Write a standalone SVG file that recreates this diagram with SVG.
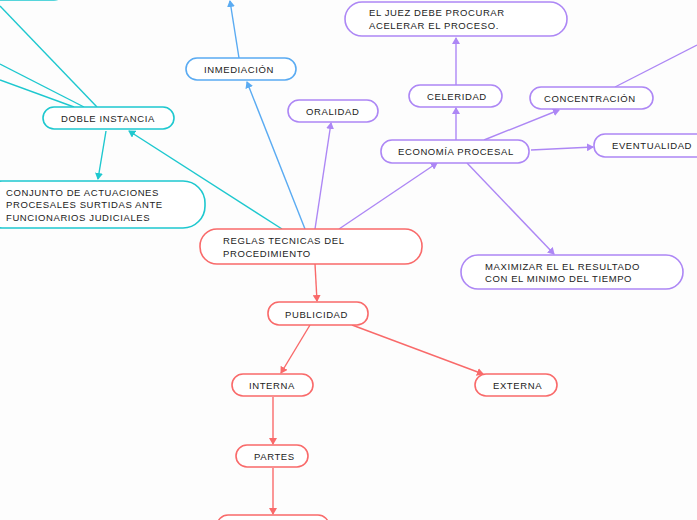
<svg xmlns="http://www.w3.org/2000/svg" width="697" height="520" viewBox="0 0 697 520">
<defs>
<marker id="mc" markerWidth="8" markerHeight="8" refX="6" refY="4" orient="auto" markerUnits="userSpaceOnUse"><path d="M0,0 L7,4 L0,8 z" fill="#1ec8cf"/></marker>
<marker id="mb" markerWidth="8" markerHeight="8" refX="6" refY="4" orient="auto" markerUnits="userSpaceOnUse"><path d="M0,0 L7,4 L0,8 z" fill="#5aabf2"/></marker>
<marker id="mp" markerWidth="8" markerHeight="8" refX="6" refY="4" orient="auto" markerUnits="userSpaceOnUse"><path d="M0,0 L7,4 L0,8 z" fill="#ad87f5"/></marker>
<marker id="mr" markerWidth="8" markerHeight="8" refX="6" refY="4" orient="auto" markerUnits="userSpaceOnUse"><path d="M0,0 L7,4 L0,8 z" fill="#f96a6a"/></marker>
</defs>
<style>
rect{fill:#fff;stroke-width:1.6}
.c rect{stroke:#1ec8cf}.b rect{stroke:#5aabf2}.p rect{stroke:#ad87f5}.r rect{stroke:#f96a6a}
text{font-family:"Liberation Sans",Arial,sans-serif;font-size:9.5px;fill:#222;letter-spacing:0.6px}
line{stroke-width:1.4}
.lc{stroke:#1ec8cf}.lb{stroke:#5aabf2}.lp{stroke:#ad87f5}.lr{stroke:#f96a6a}
</style>
<rect x="0" y="0" width="697" height="520" style="fill:#fdfdfd;stroke:none"/>
<g id="connectors">
<line class="lc" x1="97" y1="107" x2="0" y2="6"/>
<line class="lc" x1="84" y1="107" x2="0" y2="64"/>
<line class="lc" x1="74" y1="107" x2="0" y2="80"/>
<line class="lc" x1="106" y1="131" x2="98" y2="179" marker-end="url(#mc)"/>
<line class="lc" x1="282" y1="229" x2="129" y2="131" marker-end="url(#mc)"/>
<line class="lb" x1="305" y1="229" x2="247" y2="82" marker-end="url(#mb)"/>
<line class="lb" x1="239" y1="58" x2="230" y2="1" marker-end="url(#mb)"/>
<line class="lp" x1="315" y1="229" x2="331" y2="123" marker-end="url(#mp)"/>
<line class="lp" x1="339" y1="229" x2="437" y2="163" marker-end="url(#mp)"/>
<line class="lp" x1="456" y1="140" x2="456" y2="108" marker-end="url(#mp)"/>
<line class="lp" x1="456" y1="85" x2="456" y2="38" marker-end="url(#mp)"/>
<line class="lp" x1="484" y1="140" x2="559" y2="110" marker-end="url(#mp)"/>
<line class="lp" x1="615" y1="87" x2="697" y2="45"/>
<line class="lp" x1="531" y1="150" x2="593" y2="147" marker-end="url(#mp)"/>
<line class="lp" x1="467" y1="163" x2="554" y2="254" marker-end="url(#mp)"/>
<line class="lr" x1="315" y1="264" x2="317" y2="301" marker-end="url(#mr)"/>
<line class="lr" x1="310" y1="325" x2="281" y2="373" marker-end="url(#mr)"/>
<line class="lr" x1="352" y1="325" x2="483" y2="374" marker-end="url(#mr)"/>
<line class="lr" x1="273" y1="397" x2="273" y2="444" marker-end="url(#mr)"/>
<line class="lr" x1="273" y1="468" x2="273" y2="514" marker-end="url(#mr)"/>
</g>
<g id="n-topleft" class="c"><rect x="-20" y="-22" width="85" height="22" rx="11"/></g>
<g id="n-doble" class="c"><rect x="43" y="107" width="131" height="22" rx="11"/><text x="61" y="122">DOBLE INSTANCIA</text></g>
<g id="n-conjunto" class="c"><rect x="-20" y="181" width="225" height="47" rx="22"/><text x="6" y="196">CONJUNTO DE ACTUACIONES</text><text x="6" y="208">PROCESALES SURTIDAS ANTE</text><text x="6" y="221">FUNCIONARIOS JUDICIALES</text></g>
<g id="n-inmed" class="b"><rect x="186" y="58" width="110" height="22" rx="11"/><text x="204" y="73">INMEDIACIÓN</text></g>
<g id="n-oral" class="p"><rect x="288" y="100" width="90" height="22" rx="11"/><text x="306" y="115">ORALIDAD</text></g>
<g id="n-econ" class="p"><rect x="381" y="140" width="148" height="23" rx="11"/><text x="398" y="155">ECONOMÍA PROCESAL</text></g>
<g id="n-celer" class="p"><rect x="409" y="85" width="93" height="22" rx="11"/><text x="427" y="100">CELERIDAD</text></g>
<g id="n-juez" class="p"><rect x="345" y="2" width="222" height="34" rx="17"/><text x="369" y="16">EL JUEZ DEBE PROCURAR</text><text x="369" y="29">ACELERAR EL PROCESO.</text></g>
<g id="n-conc" class="p"><rect x="530" y="87" width="123" height="22" rx="11"/><text x="544" y="102">CONCENTRACIÓN</text></g>
<g id="n-event" class="p"><rect x="594" y="134" width="120" height="23" rx="11"/><text x="612" y="149">EVENTUALIDAD</text></g>
<g id="n-max" class="p"><rect x="461" y="255" width="222" height="34" rx="17"/><text x="485" y="270">MAXIMIZAR EL EL RESULTADO</text><text x="485" y="282">CON EL MINIMO DEL TIEMPO</text></g>
<g id="n-reglas" class="r"><rect x="200" y="229" width="222" height="35" rx="17"/><text x="223" y="244">REGLAS TECNICAS DEL</text><text x="223" y="257">PROCEDIMIENTO</text></g>
<g id="n-pub" class="r"><rect x="268" y="302" width="100" height="23" rx="11"/><text x="285" y="318">PUBLICIDAD</text></g>
<g id="n-interna" class="r"><rect x="232" y="374" width="81" height="22" rx="11"/><text x="249" y="389">INTERNA</text></g>
<g id="n-externa" class="r"><rect x="475" y="374" width="82" height="22" rx="11"/><text x="493" y="389">EXTERNA</text></g>
<g id="n-partes" class="r"><rect x="236" y="445" width="72" height="22" rx="11"/><text x="254" y="460">PARTES</text></g>
<g id="n-bottom" class="r"><rect x="217" y="515" width="112" height="22" rx="11"/></g>
</svg>
